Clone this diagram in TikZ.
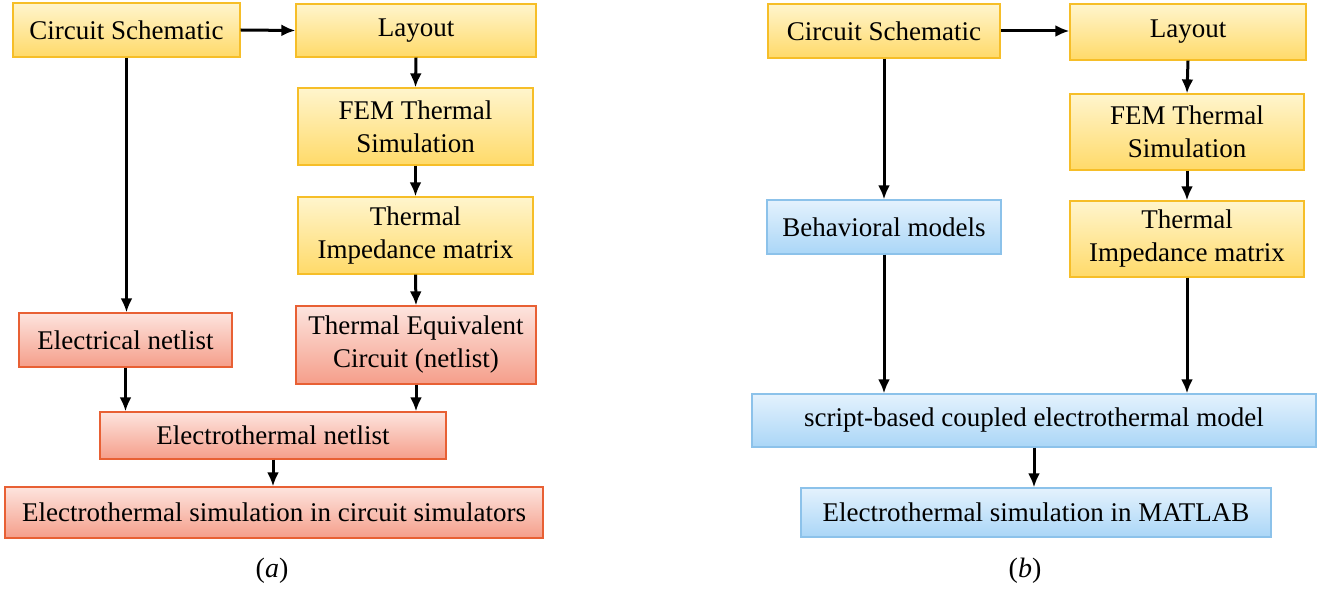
\documentclass[tikz,border=0pt]{standalone}
\usepackage{fontspec}
\setmainfont{Liberation Serif}
\usetikzlibrary{arrows.meta}
\definecolor{yT}{RGB}{255,245,205}
\definecolor{yB}{RGB}{255,218,105}
\definecolor{yD}{RGB}{246,190,40}
\definecolor{rT}{RGB}{253,228,222}
\definecolor{rB}{RGB}{245,158,138}
\definecolor{rD}{RGB}{232,96,52}
\definecolor{bT}{RGB}{228,242,253}
\definecolor{bB}{RGB}{170,214,247}
\definecolor{bD}{RGB}{140,194,234}
\tikzset{
  box/.style={rectangle, inner sep=0pt, align=center, line width=1.2pt,
    font=\fontsize{27}{33}\selectfont},
  ybox/.style={box, draw=yD, top color=yT, bottom color=yB},
  rbox/.style={box, draw=rD, top color=rT, bottom color=rB},
  bbox/.style={box, draw=bD, top color=bT, bottom color=bB},
  arr/.style={line width=3pt, -{Latex[length=14pt,width=12pt]}},
  captext/.style={font=\fontsize{28}{32}\selectfont}
}
\begin{document}
\begin{tikzpicture}[x=1pt,y=-1pt]
\useasboundingbox (0,0) rectangle (1323,593);
% ---------- (a) ----------
\node[ybox, minimum width=227, minimum height=54] (cs) at (126.5,30) {Circuit Schematic};
\node[ybox, minimum width=240, minimum height=53] (lay) at (416,30.5) {Layout};
\node[ybox, minimum width=235, minimum height=77] (fem) at (415.5,126.5) {FEM Thermal\\Simulation};
\node[ybox, minimum width=235, minimum height=77] (tim) at (415.5,235.5) {Thermal\\Impedance matrix};
\node[rbox, minimum width=240, minimum height=78] (tec) at (416,345) {Thermal Equivalent\\Circuit (netlist)};
\node[rbox, minimum width=213, minimum height=54] (en) at (125.5,340) {Electrical netlist};
\node[rbox, minimum width=346, minimum height=47] (etn) at (273,435.5) {Electrothermal netlist};
\node[rbox, minimum width=538, minimum height=51] (sim) at (274,512.5) {Electrothermal simulation in circuit simulators};
\node[captext] (capa) at (272,571) {(\textit{a})};
\draw[arr] (cs.east) -- (lay.west);
\draw[arr] (cs.south) -- (cs.south |- en.north);
\draw[arr] (lay.south) -- (fem.north);
\draw[arr] (fem.south) -- (tim.north);
\draw[arr] (tim.south) -- (tec.north);
\draw[arr] (en.south) -- (en.south |- etn.north);
\draw[arr] (tec.south) -- (tec.south |- etn.north);
\draw[arr] (etn.south) -- (etn.south |- sim.north);
% ---------- (b) ----------
\node[ybox, minimum width=232, minimum height=54] (cs2) at (884,31) {Circuit Schematic};
\node[ybox, minimum width=236, minimum height=56] (lay2) at (1188,32) {Layout};
\node[ybox, minimum width=234, minimum height=76] (fem2) at (1187,132) {FEM Thermal\\Simulation};
\node[ybox, minimum width=234, minimum height=76] (tim2) at (1187,239) {Thermal\\Impedance matrix};
\node[bbox, minimum width=234, minimum height=54] (bm) at (884,227) {Behavioral models};
\node[bbox, minimum width=564, minimum height=53] (sb) at (1034,420.5) {script-based coupled electrothermal model};
\node[bbox, minimum width=470, minimum height=49] (ml) at (1036,512.5) {Electrothermal simulation in MATLAB};
\node[captext] (capb) at (1025,571) {(\textit{b})};
\draw[arr] (cs2.east) -- (cs2.east -| lay2.west);
\draw[arr] (cs2.south) -- (bm.north);
\draw[arr] (lay2.south) -- (fem2.north);
\draw[arr] (fem2.south) -- (tim2.north);
\draw[arr] (bm.south) -- (bm.south |- sb.north);
\draw[arr] (tim2.south) -- (tim2.south |- sb.north);
\draw[arr] (sb.south) -- (sb.south |- ml.north);
\end{tikzpicture}
\end{document}
